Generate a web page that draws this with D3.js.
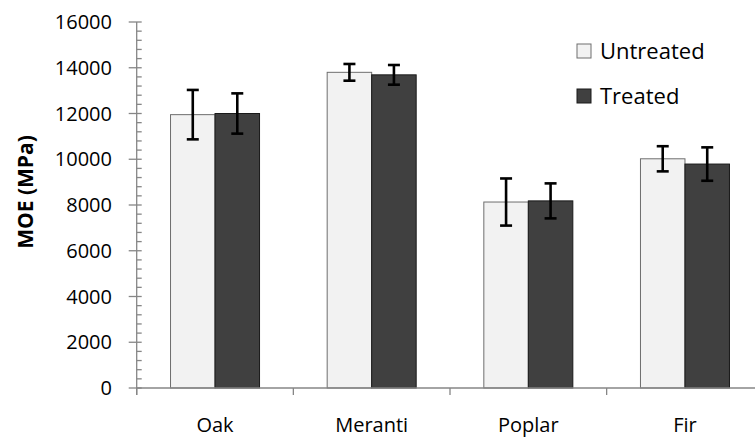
<!DOCTYPE html>
<html>
<head>
<meta charset="utf-8">
<script src="https://cdn.jsdelivr.net/npm/d3@7"></script>
<style>
  html, body { margin: 0; padding: 0; background: #fff; }
  svg { display: block; }
  text { font-family: "Open Sans", "DejaVu Sans", sans-serif; fill: #000; }
</style>
</head>
<body>
<svg id="chart" width="755" height="438"></svg>
<script>
// Modulus of elasticity by wood species, untreated vs treated
const species = ["Oak", "Meranti", "Poplar", "Fir"];
const seriesNames = ["Untreated", "Treated"];
const untreatedMean = [11950, 13800, 8130, 10020];
const untreatedErr  = [1080, 365, 1030, 550];
const treatedMean   = [12000, 13690, 8180, 9790];
const treatedErr    = [880, 430, 765, 730];
const yTicks = [0, 2000, 4000, 6000, 8000, 10000, 12000, 14000, 16000];

const fills   = { Untreated: "#f2f2f2", Treated: "#404040" };
const strokes = { Untreated: "#6e6e6e", Treated: "#1a1a1a" };
const axisColor = "#868686";

const rows = [];
species.forEach((s, i) => {
  rows.push({ cat: s, series: "Untreated", value: untreatedMean[i], err: untreatedErr[i] });
  rows.push({ cat: s, series: "Treated", value: treatedMean[i], err: treatedErr[i] });
});

const svg = d3.select("#chart");
const plotLeft = 136.7, plotBottom = 388, plotTop = 22;

const x = d3.scaleBand().domain(species).range([plotLeft, plotLeft + 4 * 156.65]).padding(0);
const xi = d3.scaleBand().domain(seriesNames).range([0, x.bandwidth()])
  .paddingInner(0).paddingOuter(0.76);
const y = d3.scaleLinear().domain([0, 16000]).range([plotBottom, plotTop]);

// bars
svg.append("g").selectAll("rect").data(rows).join("rect")
  .attr("x", d => x(d.cat) + xi(d.series))
  .attr("y", d => y(d.value))
  .attr("width", xi.bandwidth())
  .attr("height", d => y(0) - y(d.value))
  .attr("fill", d => fills[d.series])
  .attr("stroke", d => strokes[d.series])
  .attr("stroke-width", 1);

// error bars
const eb = svg.append("g").attr("stroke", "#000").attr("stroke-width", 2.6).attr("fill", "none");
rows.forEach(d => {
  const cx = x(d.cat) + xi(d.series) + xi.bandwidth() / 2;
  const y1 = y(d.value + d.err), y2 = y(d.value - d.err);
  eb.append("line").attr("x1", cx).attr("x2", cx).attr("y1", y1).attr("y2", y2);
  eb.append("line").attr("x1", cx - 6).attr("x2", cx + 6).attr("y1", y1).attr("y2", y1);
  eb.append("line").attr("x1", cx - 6).attr("x2", cx + 6).attr("y1", y2).attr("y2", y2);
});

// y axis: line, minor ticks (inside), major ticks (crossing)
const ya = svg.append("g").attr("stroke", axisColor).attr("stroke-width", 1.3);
ya.append("line").attr("x1", plotLeft).attr("x2", plotLeft).attr("y1", y(16000)).attr("y2", plotBottom + 7);
const minorTicks = d3.range(0, 16001, 400).filter(v => v % 2000 !== 0);
ya.selectAll("line.minor").data(minorTicks).join("line").attr("class", "minor")
  .attr("x1", plotLeft).attr("x2", plotLeft + 5).attr("y1", d => y(d)).attr("y2", d => y(d));
ya.selectAll("line.major").data(yTicks).join("line").attr("class", "major")
  .attr("x1", plotLeft - 8).attr("x2", plotLeft + 5).attr("y1", d => y(d)).attr("y2", d => y(d));

svg.append("g").selectAll("text").data(yTicks).join("text")
  .attr("x", 112).attr("y", d => y(d)).attr("dy", "0.36em")
  .attr("text-anchor", "end").attr("font-size", 20)
  .text(d => d);

// x axis
const xa = svg.append("g").attr("stroke", axisColor).attr("stroke-width", 1.3);
xa.append("line").attr("x1", plotLeft).attr("x2", 755).attr("y1", plotBottom).attr("y2", plotBottom);
const boundaries = species.map(s => x(s)).concat([x.range()[1]]);
xa.selectAll("line.tk").data(boundaries).join("line").attr("class", "tk")
  .attr("x1", d => d).attr("x2", d => d).attr("y1", plotBottom).attr("y2", plotBottom + 7);

svg.append("g").selectAll("text").data(species).join("text")
  .attr("x", d => x(d) + x.bandwidth() / 2).attr("y", 432)
  .attr("text-anchor", "middle").attr("font-size", 20)
  .text(d => d);

// y axis title
svg.append("text")
  .attr("transform", "translate(33,192) rotate(-90)")
  .attr("text-anchor", "middle").attr("font-size", 21).attr("font-weight", 700)
  .text("MOE (MPa)");

// legend
const lg = svg.append("g");
seriesNames.forEach((s, i) => {
  const yy = 44 + i * 45;
  lg.append("rect").attr("x", 577).attr("y", yy).attr("width", 14).attr("height", 14)
    .attr("fill", fills[s]).attr("stroke", strokes[s]).attr("stroke-width", 1);
  lg.append("text").attr("x", 600).attr("y", yy + 14.5).attr("font-size", 22).text(s);
});
</script>
</body>
</html>
